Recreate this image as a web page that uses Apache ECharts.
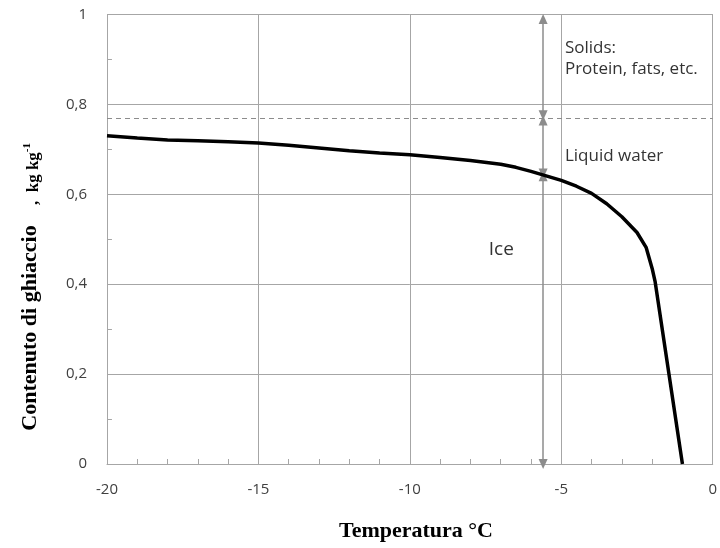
<!DOCTYPE html>
<html>
<head>
<meta charset="utf-8">
<script src="https://cdn.jsdelivr.net/npm/echarts@6/dist/echarts.min.js"></script>
<style>html,body{margin:0;padding:0;background:#fff}#c{width:720px;height:548px}</style>
</head>
<body>
<div id="c"></div>
<script>
// ---- data ----
const temperatures = [-20, -19, -18, -17, -16, -15, -14, -13, -12, -11, -10, -9, -8, -7, -6.5, -6, -5.5, -5, -4.5, -4, -3.5, -3, -2.5, -2.2, -2.0, -1.9, -1.0];
const iceContent   = [0.730, 0.725, 0.721, 0.719, 0.717, 0.714, 0.709, 0.703, 0.697, 0.692, 0.688, 0.682, 0.675, 0.667, 0.660, 0.651, 0.641, 0.631, 0.618, 0.602, 0.579, 0.550, 0.515, 0.482, 0.435, 0.405, 0.0];
const xTicks = [-20, -15, -10, -5, 0];
const yTicks = [0, 0.2, 0.4, 0.6, 0.8, 1];
const yMinorTicks = [0.1, 0.3, 0.5, 0.7, 0.9];
const solidsLevel = 0.77;          // dashed line: water + ice total
const arrowX = -5.6;               // x of the annotation arrows
const arrowSegments = [[0.99, 0.776], [0.764, 0.646], [0.640, 0.0]];
const annotationTexts = ['Solids:', 'Protein, fats, etc.', 'Liquid water', 'Ice'];
const annotationX = [-4.88, -4.88, -4.88, -6.98];
const annotationY = [0.926, 0.878, 0.685, 0.476];
const xTitle = 'Temperatura °C';
const yTitleMain = 'Contenuto di ghiaccio';
const yTitleUnit = 'kg kg';

const chart = echarts.init(document.getElementById('c'));
const gridColor = '#a6a6a6';
const tickFont = {fontFamily: 'Open Sans', fontSize: 15, color: '#404040'};
const xMin = xTicks[0], xMax = xTicks[xTicks.length - 1];
const minorTickLen = (xMax - xMin) * 5 / 612;   // ~5 px tick, in data units

chart.setOption({
  animation: false,
  backgroundColor: '#fff',
  grid: {left: 107, right: 1, top: 14.5, bottom: 84},
  xAxis: {
    type: 'value', min: xMin, max: xMax, interval: 5,
    axisLine: {show: true, lineStyle: {color: gridColor, width: 1}},
    axisTick: {show: true, inside: true, length: 5, lineStyle: {color: gridColor}},
    minorTick: {show: true, splitNumber: 5, length: 5, lineStyle: {color: gridColor}},
    splitLine: {show: true, lineStyle: {color: gridColor, width: 1}},
    axisLabel: Object.assign({margin: 18, formatter: v => String(v)}, tickFont)
  },
  yAxis: {
    type: 'value', min: yTicks[0], max: yTicks[yTicks.length - 1], interval: 0.2,
    axisLine: {show: true, lineStyle: {color: gridColor, width: 1}},
    axisTick: {show: false},
    minorTick: {show: false},
    splitLine: {show: true, lineStyle: {color: gridColor, width: 1}},
    axisLabel: Object.assign({margin: 20, formatter: v => String(Math.round(v * 10) / 10).replace('.', ',')}, tickFont)
  },
  series: [
    {
      type: 'line',
      data: temperatures.map((t, i) => [t, iceContent[i]]),
      showSymbol: false,
      lineStyle: {color: '#000', width: 3.5},
      z: 5,
      markLine: {
        silent: true,
        symbol: ['none', 'none'],
        label: {show: false},
        lineStyle: {color: '#8c8c8c', type: [5, 4], width: 1},
        data: [{yAxis: solidsLevel}]
      }
    },
    {
      type: 'line',
      data: [],
      markLine: {
        silent: true,
        symbol: ['triangle', 'triangle'],
        symbolSize: [9, 10],
        label: {show: false},
        lineStyle: {color: '#8c8c8c', type: 'solid', width: 1.5},
        data: arrowSegments.map(s => [{coord: [arrowX, s[0]]}, {coord: [arrowX, s[1]]}])
      }
    },
    {
      type: 'line',
      data: [],
      markLine: {
        silent: true,
        symbol: ['none', 'none'],
        label: {show: false},
        lineStyle: {color: gridColor, type: 'solid', width: 1},
        data: yMinorTicks.map(v => [{coord: [xMin, v]}, {coord: [xMin + minorTickLen, v]}])
      }
    }
  ]
});

function drawGraphics() {
  const els = [];
  annotationTexts.forEach((t, i) => {
    const p = chart.convertToPixel({gridIndex: 0}, [annotationX[i], annotationY[i]]);
    els.push({
      type: 'text', x: p[0], y: p[1],
      style: {text: t, fill: '#333', font: (t === 'Ice' ? '19px' : '17px') + ' "Open Sans"',
              textAlign: t === 'Ice' ? 'center' : 'left', textVerticalAlign: 'middle'}
    });
  });
  els.push({type: 'text', x: 416, y: 531,
    style: {text: xTitle, fill: '#000', font: 'bold 22px "Liberation Serif"', textAlign: 'center', textVerticalAlign: 'middle'}});
  els.push({type: 'text', x: 30, y: 328, rotation: Math.PI / 2,
    style: {text: yTitleMain, fill: '#000', font: 'bold 22px "Liberation Serif"', textAlign: 'center', textVerticalAlign: 'middle'}});
  els.push({type: 'text', x: 32, y: 174, rotation: Math.PI / 2,
    style: {
      text: '{a|,  ' + yTitleUnit + '}{s|-1}',
      textAlign: 'center', textVerticalAlign: 'middle',
      rich: {
        a: {font: 'bold 17px "Liberation Serif"', fill: '#000', lineHeight: 20, verticalAlign: 'bottom'},
        s: {font: 'bold 11px "Liberation Serif"', fill: '#000', lineHeight: 20, verticalAlign: 'top'}
      }
    }});
  chart.setOption({graphic: {elements: els}});
}
drawGraphics();
</script>
</body>
</html>
